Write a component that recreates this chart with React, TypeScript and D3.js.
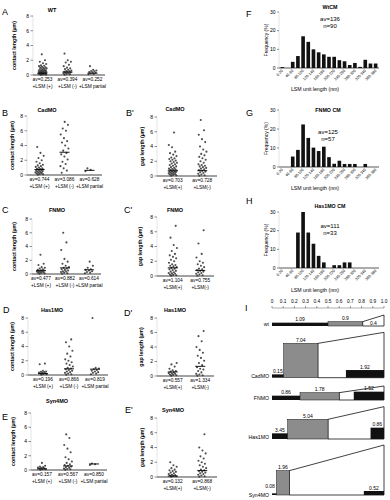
import React from "react";
import * as d3 from "d3";

// ---------- Dot-plot data (µm) ----------
const A_plus = [0.02,0.05,0.08,0.1,0.12,0.15,0.18,0.2,0.22,0.25,0.28,0.3,0.32,0.35,0.4,0.42,0.45,0.5,0.52,0.55,0.6,0.62,0.65,0.7,0.75,0.8,0.85,0.9,0.95,1.0,1.05,1.1,1.2,1.25,1.3,1.5,1.6,1.8,2.0,2.8];
const A_minus = [0.05,0.1,0.15,0.2,0.22,0.3,0.35,0.4,0.45,0.5,0.55,0.6,0.7,0.8,0.9,1.0,1.2,1.4,1.7,1.8,2.0,2.9];
const A_partial = [0.1,0.15,0.2,0.3,0.35,0.4,0.5,0.55,0.6,0.7,1.2];
const B_plus = [0.05,0.1,0.15,0.2,0.25,0.3,0.35,0.4,0.45,0.5,0.55,0.6,0.65,0.7,0.75,0.8,0.85,0.9,1.0,1.1,1.2,1.3,1.4,1.6,1.8,2.0,2.3,2.6,3.0,3.8];
const B_minus = [0.3,0.6,0.9,1.2,1.5,1.8,2.1,2.5,2.8,3.0,3.3,3.6,4.0,4.4,4.6,5.0,5.5,6.0,6.3,6.8,7.2];
const B_partial = [0.5,0.7,0.9];
const Bp_plus = [0.05,0.1,0.15,0.2,0.25,0.3,0.35,0.4,0.45,0.5,0.55,0.6,0.65,0.7,0.75,0.8,0.85,0.9,0.95,1.0,1.1,1.2,1.3,1.4,1.5,1.6,1.7,1.8,1.9,2.0,2.1,2.2,2.3,2.4,2.5,2.7,2.9,3.1,3.3,3.9,4.2,5.9];
const Bp_minus = [0.05,0.1,0.2,0.3,0.4,0.5,0.6,0.7,0.8,0.9,1.0,1.1,1.2,1.3,1.4,1.5,1.6,1.8,2.0,2.2,2.4,2.6,2.8,3.0,3.3,3.6,4.0,4.6,5.0,5.6,6.2,7.6];
const C_plus = [0.05,0.1,0.15,0.2,0.25,0.3,0.35,0.4,0.45,0.5,0.55,0.6,0.7,0.8,0.9,1.0,1.3,1.5,2.8];
const C_minus = [0.05,0.1,0.2,0.3,0.35,0.4,0.5,0.6,0.7,0.8,0.9,1.0,1.2,1.5,1.8,2.2,3.5,4.6,6.0];
const C_partial = [0.1,0.2,0.3,0.4,0.5,0.6,0.7,0.9,1.2,1.8];
const Cp_plus = [0.05,0.1,0.15,0.2,0.3,0.35,0.4,0.5,0.6,0.7,0.8,0.9,1.0,1.1,1.2,1.3,1.4,1.5,1.6,1.8,2.0,2.2,2.4,2.6,2.8,3.0,3.4,3.8,4.2,5.2,6.8];
const Cp_minus = [0.05,0.1,0.2,0.3,0.4,0.5,0.6,0.7,0.8,0.9,1.0,1.2,1.4,1.6,1.8,2.0,2.5,3.0,4.4,6.2];
const D_plus = [0.05,0.1,0.15,0.2,0.25,0.3,0.35,0.4,0.45,0.5,0.6,1.5,1.6];
const D_minus = [0.05,0.1,0.2,0.3,0.4,0.5,0.6,0.7,0.8,0.9,1.0,1.2,1.4,1.6,1.8,2.0,2.2,2.6,3.0,3.4,4.0,4.6,5.0];
const D_partial = [0.1,0.2,0.3,0.4,0.5,0.6,0.7,0.8,0.9,1.0,8.0];
const Dp_plus = [0.05,0.1,0.15,0.2,0.3,0.35,0.4,0.5,0.6,0.7,0.8,1.0,1.3,1.6,1.8];
const Dp_minus = [0.05,0.1,0.2,0.3,0.5,0.7,0.9,1.0,1.2,1.5,1.8,2.1,2.5,2.8,3.2,3.6,4.0,4.8,5.5,6.2];
const E_plus = [0.05,0.1,0.15,0.2,0.25,0.3,0.35,0.4,0.5,0.6,1.0];
const E_minus = [0.05,0.1,0.15,0.2,0.3,0.4,0.5,0.6,0.7,0.8,1.0,1.2,1.5,1.8,2.5,3.0,3.5,4.5,5.0];
const E_partial = [0.7,0.8,0.9];
const Ep_plus = [0.05,0.1,0.15,0.2,0.25,0.3,0.4,0.5,0.6,0.7,0.8,0.9,1.0,1.2,1.4,1.6,2.0];
const Ep_minus = [0.05,0.1,0.2,0.3,0.4,0.5,0.6,0.7,0.8,0.9,1.0,1.2,1.4,1.6,1.8,2.0,2.2,2.5,2.8,3.2,3.6,4.0,5.8];

const cats3 = ["+LSM (+)", "+LSM (-)", "+LSM partial"];
const cats2 = ["+LSM(+)", "+LSM(-)"];
const A_av = ["av=0.253", "av=0.394", "av=0.252"];
const B_av = ["av=0.744", "av=3.086", "av=0.628"];
const Bp_av = ["av=0.703", "av=0.728"];
const C_av = ["av=0.477", "av=0.882", "av=0.614"];
const Cp_av = ["av=1.104", "av=0.755"];
const D_av = ["av=0.196", "av=0.866", "av=0.819"];
const Dp_av = ["av=0.557", "av=1.334"];
const E_av = ["av=0.157", "av=0.567", "av=0.850"];
const Ep_av = ["av=0.132", "av=0.868"];
const dotTicks = [0, 2, 4, 6, 8];

// ---------- Histogram data (%) ----------
const binLabels = ["0-20","20-40","40-60","60-80","80-100","100-120","120-140","140-160","160-180","180-200","200-220","220-240","240-260","260-280","280-300","300-320","320-340","340-360","360-380"];
const F_freq = [0.5,0,3.3,6.4,17,14,10,8.4,7.3,6,6,4.2,3.6,1.6,2.7,0.6,4.4,2.4,2.4];
const G_freq = [0,0,5.5,9,22.4,15.3,10.2,8.4,10.7,5.2,1.7,3.3,1.6,1.6,1.6,0,1.6,0,0];
const H_freq = [0,0,0,19,30,19,13,6.5,3,0,1.5,1.5,3,3,0,0,0,0,0];
const histTicks = [0, 10, 20, 30];

// ---------- Panel I schematic ----------
const I_rows = ["wt", "CadMO", "FNMO", "Has1MO", "Syn4MO"];
const I_scaleTicks = [0,0.1,0.2,0.3,0.4,0.5,0.6,0.7,0.8,0.9,1.0];
// [start, end, height(rel), label]
const I_black1 = [[0,0.5,10,"1.09"],[0,0.104,10,"0.15"],[0,0.25,13,"0.86"],[0,0.14,17,"3.45"],[0,0.04,5,"0.08"]];
const I_gray = [[0.5,0.81,13,"0.9"],[0.104,0.41,103,"7.04"],[0.25,0.6,22,"1.78"],[0.14,0.5,59,"5.04"],[0.04,0.155,73,"1.96"]];
const I_whiteRight = [33,136,42,97,150];
const I_black2 = [[0.81,1,0,"0.4"],[0.66,1,23,"1.92"],[0.73,1,25,"1.52"],[0.88,1,34,"0.86"],[0.82,1,12,"0.52"]];

const FONT = "'Liberation Sans', Arial, Helvetica, sans-serif";

type DotCfg = {
  letter: string; lx: number; ly: number;
  title: string; tx: number; ty: number;
  yLabel: string; ylx: number;
  axisX: number; b0: number; b1: number; y0: number; y8: number;
  groups: number[][]; avs: string[]; cats: string[];
};

// low-discrepancy horizontal spread (layout only)
const jitter = (i: number) => (((i * 0.618034 + 0.31) % 1) * 2 - 1) * 4.2;

function DotPanel({ c }: { c: DotCfg }) {
  const y = d3.scaleLinear().domain([0, 8]).range([c.y0, c.y8]);
  const x = d3.scaleBand<number>().domain(c.groups.map((_, i) => i)).range([c.b0, c.b1]);
  const avNum = c.avs.map((s) => parseFloat(s.split("=")[1]));
  return (
    <g fontFamily={FONT}>
      <text x={c.lx} y={c.ly} fontSize={9}>{c.letter}</text>
      <text x={c.tx} y={c.ty} fontSize={5.5} fontWeight={600} textAnchor="middle">{c.title}</text>
      <text transform={`translate(${c.ylx},${(c.y0 + c.y8) / 2}) rotate(-90)`} fontSize={5.3} fontWeight={600} textAnchor="middle">{c.yLabel}</text>
      <line x1={c.axisX} x2={c.axisX} y1={c.y0} y2={c.y8} stroke="#bbb" strokeWidth={0.4} />
      {dotTicks.map((t) => (
        <g key={t}>
          <line x1={c.axisX - 2.5} x2={c.axisX} y1={y(t)} y2={y(t)} stroke="#444" strokeWidth={0.6} />
          <text x={c.axisX - 4} y={y(t) + 1.8} fontSize={5} textAnchor="end">{t}</text>
        </g>
      ))}
      <line x1={c.axisX} x2={c.b1} y1={c.y0} y2={c.y0} stroke="#111" strokeWidth={0.8} />
      {c.groups.map((g, gi) => {
        const cx = (x(gi) as number) + x.bandwidth() / 2;
        return (
          <g key={gi}>
            {g.map((v, i) => (
              <circle key={i} cx={cx + jitter(i + gi * 3)} cy={y(v)} r={1.05} fill="#2e2e2e" fillOpacity={0.85} />
            ))}
            <line x1={cx - 5} x2={cx + 5} y1={y(avNum[gi])} y2={y(avNum[gi])} stroke="#000" strokeWidth={0.9} />
            <text x={cx} y={c.y0 + 6} fontSize={4.8} textAnchor="middle">{c.avs[gi]}</text>
            <text x={cx} y={c.y0 + 13} fontSize={4.8} textAnchor="middle">{c.cats[gi]}</text>
          </g>
        );
      })}
    </g>
  );
}

type HistCfg = {
  letter: string; lx: number; ly: number;
  title: string; tx: number; ty: number;
  av: string; n: string; avy: number;
  axisX: number; x1: number; y0: number; y30: number; xlY: number;
  freq: number[];
};

function HistPanel({ c }: { c: HistCfg }) {
  const y = d3.scaleLinear().domain([0, 30]).range([c.y0, c.y30]);
  const x = d3.scaleBand<string>().domain(binLabels).range([c.axisX, c.x1]).padding(0.3);
  return (
    <g fontFamily={FONT}>
      <text x={c.lx} y={c.ly} fontSize={9}>{c.letter}</text>
      <text x={c.tx} y={c.ty} fontSize={5.3} fontWeight={600} textAnchor="middle">{c.title}</text>
      <text x={c.tx} y={c.avy} fontSize={6} textAnchor="middle">{c.av}</text>
      <text x={c.tx} y={c.avy + 6.5} fontSize={6} textAnchor="middle">{c.n}</text>
      <text transform={`translate(${c.axisX - 11},${(c.y0 + c.y30) / 2}) rotate(-90)`} fontSize={5} textAnchor="middle">Frequency (%)</text>
      <line x1={c.axisX} x2={c.axisX} y1={c.y0} y2={c.y30} stroke="#bbb" strokeWidth={0.4} />
      {histTicks.map((t) => (
        <g key={t}>
          <line x1={c.axisX - 2} x2={c.axisX} y1={y(t)} y2={y(t)} stroke="#444" strokeWidth={0.6} />
          <text x={c.axisX - 3.5} y={y(t) + 1.8} fontSize={5} textAnchor="end">{t}</text>
        </g>
      ))}
      <line x1={c.axisX} x2={c.x1} y1={c.y0} y2={c.y0} stroke="#111" strokeWidth={0.7} />
      {c.freq.map((f, i) => (
        <rect key={i} x={x(binLabels[i])} y={y(f)} width={x.bandwidth()} height={c.y0 - y(f)} fill="#111" />
      ))}
      {binLabels.map((b, i) =>
        i % 2 === 0 ? (
          <text key={b} transform={`translate(${(x(b) as number) + x.bandwidth() / 2 + 1},${c.y0 + 3}) rotate(-45)`} fontSize={3.8} textAnchor="end">{b}</text>
        ) : null
      )}
      <text x={(c.axisX + c.x1) / 2 - 14} y={c.xlY} fontSize={5.2} textAnchor="middle">LSM unit length (nm)</text>
    </g>
  );
}

function PanelI() {
  const x = d3.scaleLinear().domain([0, 1]).range([272, 384]);
  const h = d3.scaleLinear().domain([0, 150]).range([0, 50]);
  const base = [326, 377.7, 400, 439, 495];
  return (
    <g fontFamily={FONT}>
      <text x={245} y={311} fontSize={9}>I</text>
      {I_scaleTicks.map((t) => (
        <g key={t}>
          <text x={x(t)} y={303} fontSize={4.8} textAnchor="middle">{t === 0 ? "0" : t.toFixed(1)}</text>
          <line x1={x(t)} x2={x(t)} y1={306} y2={308} stroke="#333" strokeWidth={0.5} />
        </g>
      ))}
      <line x1={x(0)} x2={x(1)} y1={308} y2={308} stroke="#333" strokeWidth={0.4} />
      {I_rows.map((r, i) => {
        const b0 = base[i];
        const [s1, e1, h1, l1] = I_black1[i] as [number, number, number, string];
        const [sg, eg, hg, lg] = I_gray[i] as [number, number, number, string];
        const [s2, e2, h2, l2] = I_black2[i] as [number, number, number, string];
        const hr = I_whiteRight[i];
        const narrow = e1 - s1 < 0.06;
        return (
          <g key={r}>
            <text x={269} y={b0 + (narrow ? 1.5 : 0)} fontSize={5.2} textAnchor="end">{r}</text>
            <path d={`M${x(eg)},${b0 - h(hg)} L${x(1)},${b0 - h(hr)} L${x(1)},${b0} L${x(eg)},${b0} Z`} fill="#fff" stroke="#111" strokeWidth={0.8} />
            <rect x={x(sg)} y={b0 - h(hg)} width={x(eg) - x(sg)} height={h(hg)} fill="#8c8c8c" stroke="#111" strokeWidth={0.5} />
            <rect x={x(s1)} y={b0 - h(h1)} width={x(e1) - x(s1)} height={h(h1)} fill="#111" />
            {h2 > 0 && <rect x={x(s2)} y={b0 - h(h2)} width={x(e2) - x(s2)} height={h(h2)} fill="#111" />}
            <text x={narrow ? x(s1) - 2 : (x(s1) + x(e1)) / 2} y={b0 - h(h1) - (narrow ? 5 : 1.5)} fontSize={5} textAnchor="middle">{l1}</text>
            <text x={(x(sg) + x(eg)) / 2} y={b0 - h(hg) - 1.5} fontSize={5} textAnchor="middle">{lg}</text>
            <text x={(x(s2) + x(e2)) / 2} y={h2 > 0 ? b0 - h(h2) - 1.5 : b0 - 1.5} fontSize={5} textAnchor="middle">{l2}</text>
          </g>
        );
      })}
    </g>
  );
}

const dotPanels: DotCfg[] = [
  { letter: "A", lx: 2, ly: 15, title: "WT", tx: 52, ty: 12, yLabel: "contact length (µm)", ylx: 16, axisX: 33, b0: 30, b1: 105, y0: 75, y8: 16, groups: [A_plus, A_minus, A_partial], avs: A_av, cats: cats3 },
  { letter: "B", lx: 2, ly: 116, title: "CadMO", tx: 47, ty: 112, yLabel: "contact length (µm)", ylx: 14, axisX: 27, b0: 27, b1: 102, y0: 175, y8: 116, groups: [B_plus, B_minus, B_partial], avs: B_av, cats: cats3 },
  { letter: "B'", lx: 126, ly: 116, title: "CadMO", tx: 175, ty: 111, yLabel: "gap length (µm)", ylx: 144, axisX: 157, b0: 158, b1: 217, y0: 176, y8: 117, groups: [Bp_plus, Bp_minus], avs: Bp_av, cats: cats2 },
  { letter: "C", lx: 2, ly: 213, title: "FNMO", tx: 57, ty: 212, yLabel: "contact length (µm)", ylx: 16, axisX: 32, b0: 29, b1: 101, y0: 274, y8: 219, groups: [C_plus, C_minus, C_partial], avs: C_av, cats: cats3 },
  { letter: "C'", lx: 124, ly: 213, title: "FNMO", tx: 175, ty: 212, yLabel: "gap length (µm)", ylx: 142, axisX: 157, b0: 159, b1: 214, y0: 276, y8: 217, groups: [Cp_plus, Cp_minus], avs: Cp_av, cats: cats2 },
  { letter: "D", lx: 3, ly: 313, title: "Has1MO", tx: 52, ty: 312, yLabel: "contact length (µm)", ylx: 14, axisX: 28, b0: 30, b1: 108, y0: 375, y8: 318, groups: [D_plus, D_minus, D_partial], avs: D_av, cats: cats3 },
  { letter: "D'", lx: 124, ly: 316, title: "Has1MO", tx: 175, ty: 312, yLabel: "gap length (µm)", ylx: 143, axisX: 157, b0: 159, b1: 214, y0: 376, y8: 318, groups: [Dp_plus, Dp_minus], avs: Dp_av, cats: cats2 },
  { letter: "E", lx: 2, ly: 420, title: "Syn4MO", tx: 57, ty: 403, yLabel: "contact length (µm)", ylx: 15, axisX: 31, b0: 29, b1: 107, y0: 470, y8: 413, groups: [E_plus, E_minus, E_partial], avs: E_av, cats: cats3 },
  { letter: "E'", lx: 125, ly: 413, title: "Syn4MO", tx: 173, ty: 412, yLabel: "gap length (µm)", ylx: 144, axisX: 157, b0: 158, b1: 217, y0: 477, y8: 418, groups: [Ep_plus, Ep_minus], avs: Ep_av, cats: cats2 },
];

const histPanels: HistCfg[] = [
  { letter: "F", lx: 246, ly: 17, title: "WtCM", tx: 330, ty: 9, av: "av=136", n: "n=90", avy: 21, axisX: 279, x1: 379, y0: 68, y30: 12, xlY: 91, freq: F_freq },
  { letter: "G", lx: 246, ly: 116, title: "FNMO CM", tx: 328, ty: 112, av: "av=125", n: "n=57", avy: 134, axisX: 279, x1: 379, y0: 167, y30: 110, xlY: 190, freq: G_freq },
  { letter: "H", lx: 246, ly: 204, title: "Has1MO CM", tx: 330, ty: 208, av: "av=111", n: "n=33", avy: 228, axisX: 279, x1: 379, y0: 268, y30: 212, xlY: 292, freq: H_freq },
];

export default function App() {
  return (
    <svg width={390} height={500} style={{ position: "absolute", left: 0, top: 0, background: "#fff" }}>
      <rect width={390} height={500} fill="#fff" />
      {dotPanels.map((c) => <DotPanel key={c.letter} c={c} />)}
      {histPanels.map((c) => <HistPanel key={c.letter} c={c} />)}
      <PanelI />
    </svg>
  );
}
